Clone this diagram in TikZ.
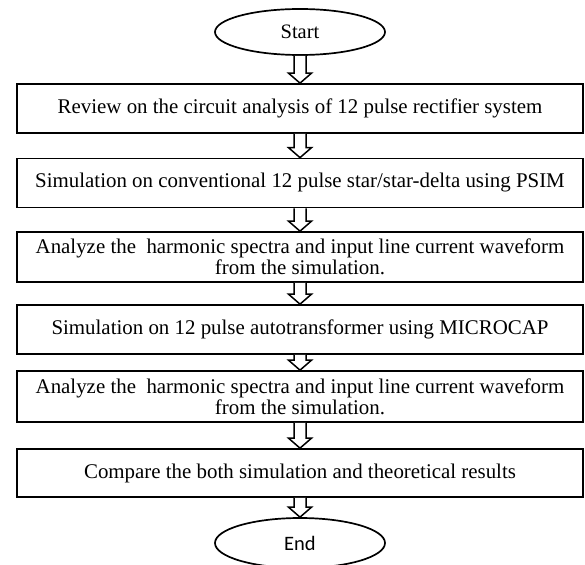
\documentclass[tikz,border=0pt]{standalone}
\usepackage{fontspec}
\setmainfont{Liberation Serif}
\newfontfamily\endfont{Carlito}
\usetikzlibrary{shapes.geometric,calc}
\newcommand\hollowarrow[2]{%
  \draw[blockarrow] let \p1=(#1.south), \p2=(#2.north) in
    (\x1-6pt,\y1) -- (\x1-6pt,\y2+10pt) -- (\x1-11.5pt,\y2+10pt) -- (\x1,\y2)
    -- (\x1+11.5pt,\y2+10pt) -- (\x1+6pt,\y2+10pt) -- (\x1+6pt,\y1);}
\begin{document}
\begin{tikzpicture}[x=1pt,y=-1pt,
  box/.style={draw, line width=1.7pt, minimum width=566pt, minimum height=49pt,
    align=center, inner sep=0pt, font=\fontsize{20.9}{21}\selectfont},
  term/.style={draw, ellipse, line width=1.7pt, minimum width=170pt,
    minimum height=46pt, inner sep=0pt},
  blockarrow/.style={draw, line width=1.5pt, fill=white}]
\useasboundingbox (0,0) rectangle (585,564);
\node[term, font=\fontsize{20.5}{20}\selectfont] (start) at (300,32) {Start};
\node[box] (b1) at (300,108.5) {Review on the circuit analysis of 12 pulse rectifier system};
\node[box] (b2) at (300,183) {Simulation on conventional 12 pulse star/star-delta using PSIM};
\node[box, minimum height=50pt] (b3) at (300,257) {Analyze the\ \ harmonic spectra and input line current waveform\\from the simulation.};
\node[box] (b4) at (300,329.5) {Simulation on 12 pulse autotransformer using MICROCAP};
\node[box, minimum height=51pt] (b5) at (300,396.5) {Analyze the\ \ harmonic spectra and input line current waveform\\from the simulation.};
\node[box, minimum height=48pt] (b6) at (300,473) {Compare the both simulation and theoretical results};
\node[term, minimum height=50pt, font=\endfont\fontsize{20.5}{20}\selectfont] (end) at (300,543) {End};
\hollowarrow{start}{b1}
\hollowarrow{b1}{b2}
\hollowarrow{b2}{b3}
\hollowarrow{b3}{b4}
\hollowarrow{b4}{b5}
\hollowarrow{b5}{b6}
\hollowarrow{b6}{end}
\end{tikzpicture}
\end{document}
